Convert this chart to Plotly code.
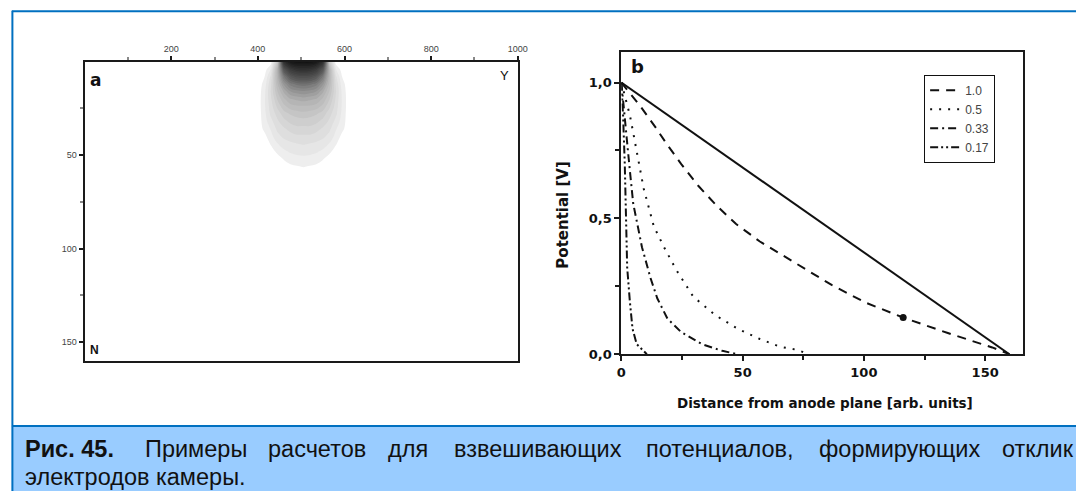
import plotly.graph_objects as go

W, H = 1086, 499

# ---- panel a: grey blob (darkness 0..1), half profile
blob_center = 505
blob_u = [0, 15, 30, 45, 60, 75, 90, 105]
blob_depth = [0, 4, 8, 12, 16, 20, 24, 28, 32, 36, 40, 44, 48, 52, 56, 60]
blob_rows = [
    [0.95, 0.95, 0.92, 0.80, 0.20, 0.00, 0.00, 0],
    [0.80, 0.79, 0.74, 0.60, 0.28, 0.06, 0.00, 0],
    [0.64, 0.63, 0.58, 0.47, 0.28, 0.10, 0.02, 0],
    [0.50, 0.49, 0.46, 0.38, 0.26, 0.12, 0.035, 0],
    [0.40, 0.39, 0.37, 0.31, 0.23, 0.13, 0.045, 0],
    [0.32, 0.31, 0.30, 0.26, 0.20, 0.12, 0.05, 0],
    [0.26, 0.26, 0.25, 0.22, 0.17, 0.11, 0.05, 0],
    [0.22, 0.21, 0.20, 0.18, 0.14, 0.10, 0.045, 0],
    [0.18, 0.18, 0.17, 0.15, 0.12, 0.08, 0.04, 0],
    [0.15, 0.15, 0.14, 0.12, 0.10, 0.06, 0.03, 0],
    [0.12, 0.12, 0.11, 0.10, 0.08, 0.045, 0.01, 0],
    [0.095, 0.09, 0.085, 0.075, 0.055, 0.025, 0.0, 0],
    [0.07, 0.068, 0.062, 0.05, 0.03, 0.008, 0, 0],
    [0.048, 0.045, 0.04, 0.025, 0.008, 0, 0, 0],
    [0.025, 0.02, 0.015, 0.005, 0, 0, 0, 0],
    [0, 0, 0, 0, 0, 0, 0, 0],
]
a_xticks = [200, 400, 600, 800, 1000]
a_xminor = [100, 300, 500, 700, 900]
a_yticks = [50, 100, 150]
a_yminor = [25, 75, 125]

# ---- panel b: potential curves
solid_x = [0, 160]
solid_y = [1.0, 0.0]
c10_x = [0, 7.7, 14.1, 19.0, 24.7, 31.7, 39.5, 47.2, 57.1, 72.6, 86.7, 100.7, 116.2, 134.6, 152.9, 160]
c10_y = [1.0, 0.915, 0.835, 0.77, 0.70, 0.62, 0.545, 0.48, 0.415, 0.33, 0.255, 0.19, 0.135, 0.078, 0.025, 0.0]
c05_x = [0, 2.0, 3.5, 5.0, 7.0, 9.2, 13.4, 17.6, 22.5, 29.6, 38.7, 47.9, 57.1, 65.5, 72.6, 77]
c05_y = [1.0, 0.93, 0.88, 0.81, 0.72, 0.61, 0.47, 0.394, 0.3125, 0.2125, 0.144, 0.094, 0.056, 0.0275, 0.016, 0.0]
c033_x = [0, 2.1, 3.5, 4.9, 6.3, 8.5, 12.0, 14.8, 19.0, 24.7, 33.1, 41.6, 48]
c033_y = [1.0, 0.821, 0.676, 0.554, 0.494, 0.394, 0.281, 0.206, 0.131, 0.081, 0.0375, 0.0125, 0.0]
c017_x = [0, 0.7, 1.4, 1.8, 2.4, 3.5, 4.6, 6.3, 9.2, 10.5]
c017_y = [1.0, 0.88, 0.70, 0.53, 0.319, 0.194, 0.094, 0.0375, 0.009, 0.0]
dot_x = [116.2]
dot_y = [0.135]
b_xticks = [0, 50, 100, 150]
b_xminor = [25, 75, 125]
b_yticks = [0, 0.5, 1.0]
b_ylabels = ["0,0", "0,5", "1,0"]
b_yminor = [0.25, 0.75]

caption_bold = "Рис. 45."
caption_line1 = ["Примеры", "расчетов", "для", "взвешивающих", "потенциалов,", "формирующих", "отклик"]
caption_line2 = "электродов камеры."


def fx(p):
    return p / W


def fy(p):
    return 1 - p / H


fig = go.Figure()

# blob as filled contour bands
xs = [blob_center - u for u in reversed(blob_u[1:])] + [blob_center + u for u in blob_u]
z = [list(reversed(r[1:])) + r for r in blob_rows]
fig.add_trace(go.Contour(
    x=xs, y=blob_depth, z=z, xaxis="x", yaxis="y",
    colorscale=[[0, "#ffffff"], [0.03, "#f0f0f0"], [0.3, "#b4b4b4"], [0.6, "#5a5a5a"], [1, "#121212"]],
    zmin=0, zmax=1,
    contours=dict(start=0.022, end=0.95, size=0.035, coloring="fill", showlines=False),
    line=dict(width=0), showscale=False, hoverinfo="skip", showlegend=False))

blk = "#111111"
fig.add_trace(go.Scatter(x=solid_x, y=solid_y, mode="lines", xaxis="x2", yaxis="y2",
                         line=dict(color=blk, width=2), showlegend=False))
curves = [
    (c10_x, c10_y, "1.0", "9px,7px"),
    (c05_x, c05_y, "0.5", "2px,7px"),
    (c033_x, c033_y, "0.33", "8px,4px,2px,4px"),
    (c017_x, c017_y, "0.17", "8px,3px,2px,3px,2px,3px"),
]
for cx, cy, name, dash in curves:
    fig.add_trace(go.Scatter(x=cx, y=cy, mode="lines", name=name, xaxis="x2", yaxis="y2",
                             line=dict(color=blk, width=2, dash=dash)))
fig.add_trace(go.Scatter(x=dot_x, y=dot_y, mode="markers", xaxis="x2", yaxis="y2",
                         marker=dict(color=blk, size=7), showlegend=False))

axis_common = dict(showline=True, linewidth=2, linecolor="#1a1a1a", mirror=True,
                   showgrid=False, zeroline=False, ticks="outside", tickcolor="#1a1a1a")
small_font = dict(family="Liberation Sans", size=9, color="#444444")
bold_font = dict(family="DejaVu Sans", size=13, color="#111111", weight="bold")

fig.update_layout(
    width=W, height=H, margin=dict(l=0, r=0, t=0, b=0),
    paper_bgcolor="white", plot_bgcolor="white",
    xaxis=dict(domain=[fx(80.7), fx(520)], range=[0, 1000], side="top", anchor="y",
               tickvals=a_xticks, ticklen=4, tickwidth=1.5, tickfont=small_font,
               minor=dict(tickvals=a_xminor, ticklen=3, ticks="outside", tickcolor="#888"),
               **axis_common),
    yaxis=dict(domain=[fy(366.7), fy(62.7)], range=[160.1, 0], anchor="x",
               tickvals=a_yticks, ticklen=4, tickwidth=1.5, tickfont=small_font,
               minor=dict(tickvals=a_yminor, ticklen=3, ticks="outside", tickcolor="#888"),
               **axis_common),
    xaxis2=dict(domain=[fx(625), fx(1032)], range=[0, 165.5], anchor="y2",
                tickvals=b_xticks, ticklen=5, tickwidth=2, tickfont=bold_font,
                minor=dict(tickvals=b_xminor, ticklen=4, ticks="outside", tickcolor="#1a1a1a"),
                **axis_common),
    yaxis2=dict(domain=[fy(360), fy(53)], range=[0, 1.112], anchor="x2",
                tickvals=b_yticks, ticktext=b_ylabels, ticklen=5, tickwidth=2, tickfont=bold_font,
                minor=dict(tickvals=b_yminor, ticklen=4, ticks="outside", tickcolor="#1a1a1a"),
                **axis_common),
    legend=dict(x=fx(932), y=fy(76), xanchor="left", yanchor="top",
                bordercolor="#111111", borderwidth=1, bgcolor="white",
                font=dict(family="Liberation Sans", size=12, color="#444444"),
                tracegroupgap=0, itemwidth=30, entrywidth=40),
)

shapes = [
    dict(type="rect", xref="paper", yref="paper", x0=fx(7), x1=1.0, y0=0, y1=fy(433),
         fillcolor="#99CCFF", line=dict(width=0), layer="below"),
    dict(type="line", xref="paper", yref="paper", x0=fx(7), x1=1.0, y0=fy(433), y1=fy(433),
         line=dict(color="#0070C0", width=2)),
    dict(type="line", xref="paper", yref="paper", x0=fx(7.5), x1=fx(7.5), y0=0, y1=fy(11),
         line=dict(color="#0070C0", width=2)),
    dict(type="line", xref="paper", yref="paper", x0=fx(7), x1=1.0, y0=fy(11.5), y1=fy(11.5),
         line=dict(color="#0070C0", width=2)),
]
fig.update_layout(shapes=shapes)

ann = []


def label(text, x, y, size, bold=False, family="DejaVu Sans", color="#111111", angle=0, xanchor="center"):
    ann.append(dict(text=text, x=fx(x), y=fy(y), xref="paper", yref="paper", showarrow=False,
                    xanchor=xanchor, yanchor="middle", textangle=angle,
                    font=dict(family=family, size=size, color=color, weight="bold" if bold else "normal")))


label("a", 92, 81, 17, bold=True)
label("Y", 507, 77, 13, family="Liberation Sans")
label("N", 91, 356, 12, bold=True, family="Liberation Sans")
label("b", 641, 68, 18, bold=True)
label("Potential [V]", 566, 219, 15, bold=True, angle=-90)
label("Distance from anode plane [arb. units]", 831, 410, 13.5, bold=True)

cap_font = "Liberation Sans"
cap_size = 23.5
label(caption_bold, 18, 456, cap_size, bold=True, family=cap_font, xanchor="left")
word_x = [140, 265, 386, 453, 648, 823, 1009]
for wtxt, wx in zip(caption_line1, word_x):
    label(wtxt, wx, 456, cap_size, family=cap_font, xanchor="left")
label(caption_line2, 18, 485, cap_size, family=cap_font, xanchor="left")

fig.update_layout(annotations=ann)

# the page's default body margin would shift the figure by 8px
fig.write_html("out.html", config={"displayModeBar": False},
               post_script="document.body.style.margin='0';")
